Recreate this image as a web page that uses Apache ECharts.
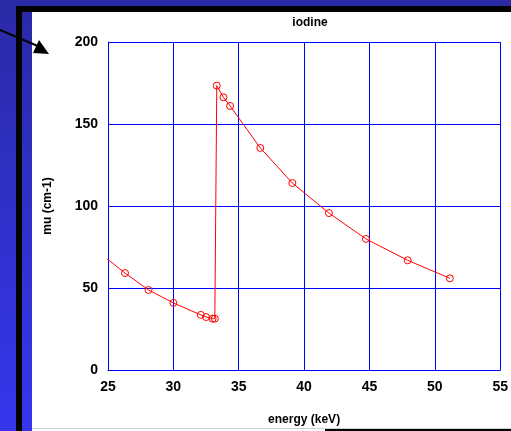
<!DOCTYPE html>
<html>
<head>
<meta charset="utf-8">
<script src="https://cdn.jsdelivr.net/npm/echarts@6/dist/echarts.min.js"></script>
<style>
html,body{margin:0;padding:0;background:#fff;}
#chart{width:511px;height:431px;}
</style>
</head>
<body>
<div id="chart"></div>
<script>
// Iodine attenuation coefficient vs photon energy (K-edge near 33.2 keV)
const energyKeV = [24.5, 26.3, 28.1, 30.0, 32.1, 32.5, 33.0, 33.17, 33.32, 33.83, 34.34, 36.65, 39.1, 41.9, 44.73, 47.92, 51.15];
const muValues  = [70.5, 59.1, 48.8, 40.9, 33.6, 32.3, 31.3, 31.3, 173.4, 166.3, 161.0, 135.4, 114.0, 95.7, 79.9, 66.9, 55.9];
const xTicks = [25, 30, 35, 40, 45, 50, 55];
const yTicks = [0, 50, 100, 150, 200];

const chart = echarts.init(document.getElementById('chart'), null, {renderer: 'canvas'});

const font = 'Liberation Sans, Arial, sans-serif';
const blueGrad = new echarts.graphic.LinearGradient(0, 0, 0, 1, [
  {offset: 0, color: '#2a2aa6'},
  {offset: 1, color: '#3636ee'}
]);

chart.setOption({
  backgroundColor: '#ffffff',
  animation: false,
  title: {
    text: 'iodine',
    left: 305,
    top: 12,
    textAlign: 'center',
    textStyle: {fontFamily: font, fontSize: 12, fontWeight: 'bold', color: '#000'}
  },
  graphic: [
    // slide frame
    {type: 'rect', shape: {x: 0, y: 0, width: 32, height: 431}, style: {fill: blueGrad}, z: -10},
    {type: 'rect', shape: {x: 0, y: 0, width: 511, height: 6}, style: {fill: '#2a2aa6'}, z: -10},
    {type: 'rect', shape: {x: 16, y: 6, width: 495, height: 6}, style: {fill: '#000'}, z: -9},
    {type: 'rect', shape: {x: 16, y: 6, width: 6, height: 425}, style: {fill: '#000'}, z: -9},
    {type: 'rect', shape: {x: 32, y: 428, width: 479, height: 1}, style: {fill: '#cfcfcf'}, z: -9},
    {type: 'rect', shape: {x: 325, y: 429, width: 186, height: 2}, style: {fill: '#000'}, z: -9},
    // pointer arrow
    {type: 'line', shape: {x1: 0, y1: 30, x2: 40, y2: 47}, style: {stroke: '#000', lineWidth: 2}, z: 20},
    {type: 'polygon', shape: {points: [[39, 40], [33, 53], [49, 54]]}, style: {fill: '#000'}, z: 20}
  ],
  grid: {left: 108, right: 9, top: 42, bottom: 61, containLabel: false},
  xAxis: {
    type: 'value',
    min: xTicks[0],
    max: xTicks[xTicks.length - 1],
    interval: 5,
    name: 'energy (keV)',
    nameLocation: 'middle',
    nameGap: 44,
    nameTextStyle: {fontFamily: font, fontSize: 12, fontWeight: 'bold', color: '#000'},
    axisLine: {show: true, lineStyle: {color: '#0000ff', width: 1}},
    axisTick: {show: true, inside: true, length: 3, lineStyle: {color: '#0000ff'}},
    axisLabel: {fontFamily: font, fontSize: 14, fontWeight: 'bold', color: '#000', margin: 10},
    splitLine: {show: true, lineStyle: {color: '#0000ff', width: 1}}
  },
  yAxis: {
    type: 'value',
    min: yTicks[0],
    max: yTicks[yTicks.length - 1],
    interval: 50,
    name: 'mu (cm-1)',
    nameLocation: 'middle',
    nameGap: 54,
    nameTextStyle: {fontFamily: font, fontSize: 12, fontWeight: 'bold', color: '#000'},
    axisLine: {show: true, lineStyle: {color: '#0000ff', width: 1}},
    axisTick: {show: true, inside: true, length: 3, lineStyle: {color: '#0000ff'}},
    axisLabel: {fontFamily: font, fontSize: 14, fontWeight: 'bold', color: '#000', margin: 10},
    splitLine: {show: true, lineStyle: {color: '#0000ff', width: 1}}
  },
  series: [{
    type: 'line',
    data: energyKeV.map((e, i) => [e, muValues[i]]),
    clip: true,
    symbol: 'circle',
    symbolSize: 7,
    lineStyle: {color: '#ff0000', width: 1},
    itemStyle: {color: 'rgba(0,0,0,0)', borderColor: '#ff0000', borderWidth: 1}
  }]
});
</script>
</body>
</html>
